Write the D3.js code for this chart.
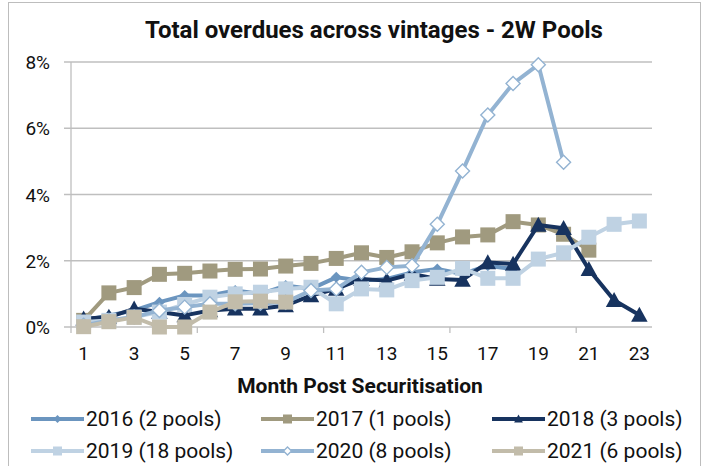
<!DOCTYPE html>
<html lang="en">
<head>
<meta charset="UTF-8">
<title>Total overdues across vintages</title>
<script src="https://cdn.jsdelivr.net/npm/d3@7/dist/d3.min.js"></script>
<style>
    body{ margin:0; background:#fff; }
    text{ font-family: Roboto, "Liberation Sans", sans-serif; fill:#111; }
</style>
</head>
<body>
<svg id="chart" width="707" height="466"></svg>
<script>
    // months on the category axis
    let months = d3.range(1, 24)
    let tickLabels = [1,3,5,7,9,11,13,15,17,19,21,23]
    let yTicks = [0, 2, 4, 6, 8]

    // series values (% overdue)
    let v2016 = [0.2,0.35,0.5,0.75,0.95,0.95,1.1,1.0,1.25,1.15,1.5,1.4,1.45,1.65,1.75,1.6,1.85,1.75]
    let v2017 = [0.2,1.03,1.19,1.59,1.62,1.69,1.74,1.75,1.84,1.92,2.07,2.24,2.1,2.27,2.54,2.72,2.78,3.18,3.08,2.8,2.32]
    let v2018 = [0.25,0.3,0.55,0.45,0.35,0.5,0.55,0.55,0.65,0.95,1.15,1.45,1.4,1.6,1.45,1.42,1.95,1.9,3.08,2.98,1.74,0.81,0.36]
    let v2019 = [0.15,0.2,0.3,0.45,0.68,0.9,1.0,1.05,1.15,1.2,0.7,1.15,1.12,1.4,1.5,1.77,1.47,1.47,2.05,2.24,2.71,3.1,3.2]
    let v2020 = [0.05,0.2,0.3,0.5,0.6,0.7,0.7,0.72,0.75,1.1,1.15,1.65,1.8,1.85,3.1,4.71,6.4,7.35,7.92,4.97]
    let v2021 = [0.01,0.16,0.29,0,0,0.45,0.76,0.78,0.75]

    let seriesNames = ["2016 (2 pools)","2017 (1 pools)","2018 (3 pools)","2019 (18 pools)","2020 (8 pools)","2021 (6 pools)"]
    let seriesValues = [v2016, v2017, v2018, v2019, v2020, v2021]
    let seriesColors = ["#6b95bf","#a09a7f","#17335f","#bfd2e3","#93b3d2","#c2bcaa"]
    let seriesMarkers = ["diamond","square","triangle","square","hollow","square"]

    let svg = d3.select("#chart")

    // outer frame
    svg.append("rect")
        .attr("x", 8.5).attr("y", 2.5)
        .attr("width", 692).attr("height", 480)
        .attr("fill", "none").attr("stroke", "#bdbdbd")

    let plotL = 71, plotR = 652, plotT = 62, plotB = 327

    let x = d3.scaleBand().domain(months).range([plotL, plotR])
    let y = d3.scaleLinear().domain([0, 8]).range([plotB, plotT])
    let cx = m => x(m) + x.bandwidth() / 2

    svg.append("text")
        .attr("x", 374).attr("y", 38)
        .attr("text-anchor", "middle")
        .attr("font-size", 24).attr("font-weight", "bold")
        .text("Total overdues across vintages - 2W Pools")

    // gridlines + y labels
    let grid = svg.append("g")
    grid.selectAll("line").data(yTicks).join("line")
        .attr("x1", plotL - 7).attr("x2", plotR)
        .attr("y1", d => y(d)).attr("y2", d => y(d))
        .attr("stroke", "#bfbfbf").attr("stroke-width", 1.3)
    grid.selectAll("text").data(yTicks).join("text")
        .attr("x", 50).attr("y", d => y(d) + 7)
        .attr("text-anchor", "end")
        .attr("font-size", 19)
        .text(d => d + "%")

    // y axis line
    svg.append("line")
        .attr("x1", plotL).attr("x2", plotL)
        .attr("y1", plotT).attr("y2", plotB + 6)
        .attr("stroke", "#bfbfbf").attr("stroke-width", 1.3)

    // x ticks every 5 categories
    let tickBounds = [5, 10, 15, 20]
    svg.selectAll(".xt").data(tickBounds).join("line")
        .attr("class", "xt")
        .attr("x1", d => x(d) + x.bandwidth()).attr("x2", d => x(d) + x.bandwidth())
        .attr("y1", plotB).attr("y2", plotB + 6)
        .attr("stroke", "#bfbfbf").attr("stroke-width", 1.3)

    svg.selectAll(".xl").data(tickLabels).join("text")
        .attr("class", "xl")
        .attr("x", d => cx(d)).attr("y", 360)
        .attr("text-anchor", "middle")
        .attr("font-size", 19)
        .text(d => d)

    svg.append("text")
        .attr("x", 360).attr("y", 393)
        .attr("text-anchor", "middle")
        .attr("font-size", 21).attr("font-weight", "bold")
        .text("Month Post Securitisation")

    function drawMarker(g, type, color, px, py, s) {
        if (type === "square") {
            g.append("rect").attr("x", px - s/2).attr("y", py - s/2)
                .attr("width", s).attr("height", s).attr("fill", color)
        } else if (type === "triangle") {
            g.append("path")
                .attr("d", `M${px},${py - s*0.55}L${px + s*0.55},${py + s*0.45}L${px - s*0.55},${py + s*0.45}Z`)
                .attr("fill", color)
        } else if (type === "diamond") {
            g.append("path")
                .attr("d", `M${px},${py - s/2}L${px + s/2},${py}L${px},${py + s/2}L${px - s/2},${py}Z`)
                .attr("fill", color)
        } else {
            g.append("path")
                .attr("d", `M${px},${py - s/2}L${px + s/2},${py}L${px},${py + s/2}L${px - s/2},${py}Z`)
                .attr("fill", "#fff").attr("stroke", color).attr("stroke-width", 1.4)
        }
    }

    let line = d3.line().x((d, i) => cx(i + 1)).y(d => y(d))
    let markerSize = [11, 15, 15, 15, 14, 15]

    seriesValues.forEach(function (vals, k) {
        let g = svg.append("g")
        g.append("path")
            .attr("d", line(vals))
            .attr("fill", "none")
            .attr("stroke", seriesColors[k])
            .attr("stroke-width", 4)
            .attr("stroke-linejoin", "round")
        vals.forEach(function (v, i) {
            drawMarker(g, seriesMarkers[k], seriesColors[k], cx(i + 1), y(v), markerSize[k])
        })
    })

    // legend
    let legX = [31, 261, 492]
    let legY = [419, 451]
    seriesNames.forEach(function (name, k) {
        let lx = legX[k % 3], ly = legY[Math.floor(k / 3)]
        let g = svg.append("g")
        g.append("line")
            .attr("x1", lx).attr("x2", lx + 53)
            .attr("y1", ly).attr("y2", ly)
            .attr("stroke", seriesColors[k]).attr("stroke-width", 4)
        drawMarker(g, seriesMarkers[k], seriesColors[k], lx + 26.5, ly, seriesMarkers[k] === "square" ? 9 : 8)
        g.append("text")
            .attr("x", lx + 55).attr("y", ly + 7)
            .attr("font-size", 21)
            .text(name)
    })
</script>
</body>
</html>
